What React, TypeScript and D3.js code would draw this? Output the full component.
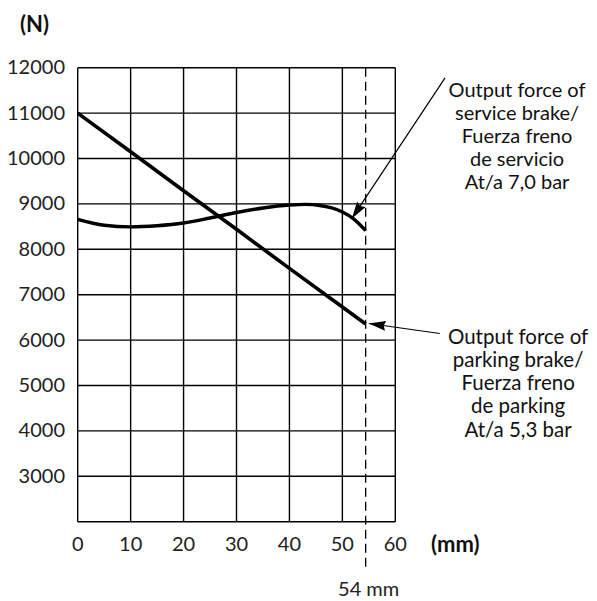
import * as d3 from "d3";

// x axis: stroke (mm)
const xTicks = [0, 10, 20, 30, 40, 50, 60];
// y axis: force (N)
const yGrid = [2000, 3000, 4000, 5000, 6000, 7000, 8000, 9000, 10000, 11000, 12000];
const yLabels = [3000, 4000, 5000, 6000, 7000, 8000, 9000, 10000, 11000, 12000];

// service brake at 7,0 bar
const serviceMm = [0, 5, 10, 15, 20, 25, 30, 35, 40, 43, 46, 48, 50, 52, 54.4];
const serviceN = [8660, 8530, 8495, 8520, 8580, 8690, 8810, 8910, 8975, 8990, 8960, 8910, 8820, 8680, 8410];

// parking brake at 5,3 bar
const parkingMm = [0, 10, 20, 30, 40, 50, 54.4];
const parkingN = [11000, 10150, 9290, 8440, 7580, 6730, 6355];

const markMm = 54.4;
const markLabel = "54 mm";

const serviceText = ["Output force of", "service brake/", "Fuerza freno", "de servicio", "At/a 7,0 bar"];
const parkingText = ["Output force of", "parking brake/", "Fuerza freno", "de parking", "At/a 5,3 bar"];

const W = 597;
const H = 601;
const TICK_FONT = "Lato, 'Open Sans', sans-serif";
const NOTE_FONT = "Lato, 'Open Sans', sans-serif";

export default function App() {
  const x = d3.scaleLinear().domain([0, 60]).range([77.7, 395.3]);
  const y = d3.scaleLinear().domain([2000, 12000]).range([521.7, 67.7]);

  const servicePath = d3
    .line<[number, number]>()
    .x((d) => x(d[0]))
    .y((d) => y(d[1]))
    .curve(d3.curveMonotoneX)(serviceMm.map((m, i) => [m, serviceN[i]] as [number, number]))!;
  const parkingPath = d3
    .line<[number, number]>()
    .x((d) => x(d[0]))
    .y((d) => y(d[1]))
    .curve(d3.curveLinear)(parkingMm.map((m, i) => [m, parkingN[i]] as [number, number]))!;

  // annotation arrows (data units: from text to curve)
  const serviceArrow = { x1: 69.4, y1: 11775, x2: 51.8, y2: 8680 };
  const parkingArrow = { x1: 68.4, y1: 6145, x2: 55.0, y2: 6366 };

  return (
    <svg width={W} height={H} style={{ position: "absolute", left: 0, top: 0, background: "#fff" }}>
      <defs>
        <marker id="arr" viewBox="0 0 17 10" refX="17" refY="5" markerWidth="17" markerHeight="10" markerUnits="userSpaceOnUse" orient="auto">
          <path d="M0,0 L17,5 L0,10 L2,5 Z" fill="#000" />
        </marker>
      </defs>

      {/* grid */}
      {yGrid.map((v) => (
        <line key={"h" + v} x1={x(0)} x2={x(60)} y1={y(v)} y2={y(v)} stroke="#000" strokeWidth={1.4} />
      ))}
      {xTicks.map((v) => (
        <line key={"v" + v} x1={x(v)} x2={x(v)} y1={y(12000)} y2={y(2000)} stroke="#000" strokeWidth={1.4} />
      ))}

      {/* 54 mm marker */}
      <line x1={x(markMm)} x2={x(markMm)} y1={y(12000)} y2={566.7} stroke="#000" strokeWidth={1.3} strokeDasharray="9,5" />
      <text x={x(markMm) + 3} y={596} textAnchor="middle" fontFamily={TICK_FONT} fontSize={20} fill="#222">
        {markLabel}
      </text>

      {/* curves */}
      <path d={parkingPath} fill="none" stroke="#000" strokeWidth={3.6} strokeLinejoin="round" />
      <path d={servicePath} fill="none" stroke="#000" strokeWidth={3.4} strokeLinejoin="round" />

      {/* tick labels */}
      {yLabels.map((v) => (
        <text key={"yl" + v} x={65} y={y(v) - 1.5} dominantBaseline="central" textAnchor="end" fontFamily={TICK_FONT} fontSize={20} fill="#222">
          {v}
        </text>
      ))}
      {xTicks.map((v) => (
        <text key={"xl" + v} x={x(v)} y={543} dominantBaseline="central" textAnchor="middle" fontFamily={TICK_FONT} fontSize={20} fill="#222">
          {v}
        </text>
      ))}
      <text x={20} y={31.5} fontFamily={NOTE_FONT} fontWeight="bold" fontSize={22} fill="#111">
        (N)
      </text>
      <text x={431} y={552} fontFamily={NOTE_FONT} fontWeight="bold" fontSize={22} fill="#111">
        (mm)
      </text>

      {/* annotations */}
      <line x1={x(serviceArrow.x1)} y1={y(serviceArrow.y1)} x2={x(serviceArrow.x2)} y2={y(serviceArrow.y2)} stroke="#000" strokeWidth={1.2} markerEnd="url(#arr)" />
      <line x1={x(parkingArrow.x1)} y1={y(parkingArrow.y1)} x2={x(parkingArrow.x2)} y2={y(parkingArrow.y2)} stroke="#000" strokeWidth={1.2} markerEnd="url(#arr)" />

      {serviceText.map((t, i) => (
        <text key={"s" + i} x={x(83)} y={96.5 + i * 23.2} textAnchor="middle" fontFamily={NOTE_FONT} fontSize={20} fill="#111">
          {t}
        </text>
      ))}
      {parkingText.map((t, i) => (
        <text key={"p" + i} x={x(83.2)} y={343.5 + i * 23.3} textAnchor="middle" fontFamily={NOTE_FONT} fontSize={20.5} fill="#111">
          {t}
        </text>
      ))}
    </svg>
  );
}
